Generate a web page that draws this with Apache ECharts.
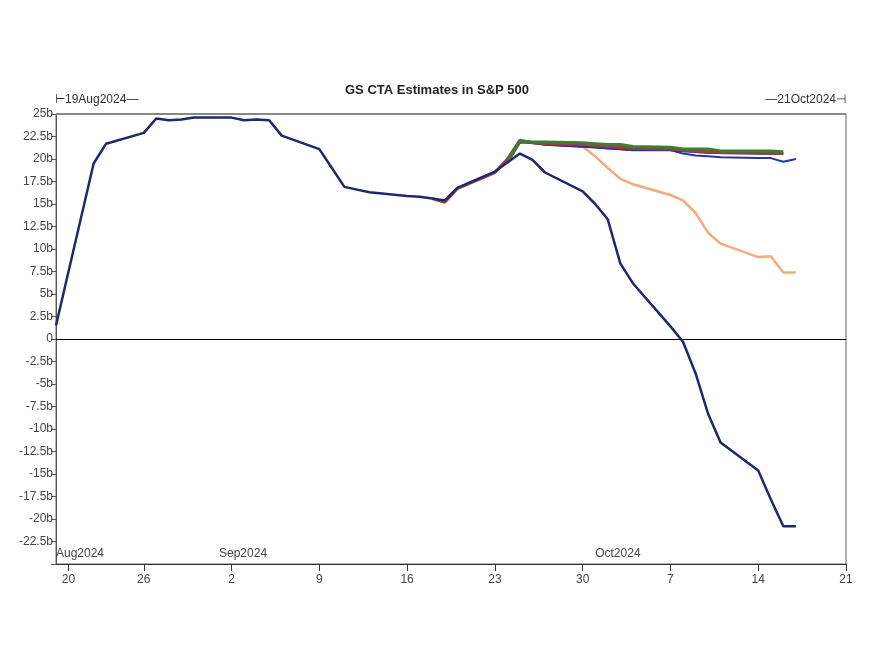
<!DOCTYPE html>
<html>
<head>
<meta charset="utf-8">
<script src="https://cdn.jsdelivr.net/npm/echarts@6/dist/echarts.min.js"></script>
<style>
html,body{margin:0;padding:0;background:#fff;}
#main{width:870px;height:652px;}
</style>
</head>
<body>
<div id="main"></div>
<script>
// ---- Data (values in billions USD) ----
const navyDates = ['2024-08-19','2024-08-20','2024-08-21','2024-08-22','2024-08-23','2024-08-26','2024-08-27','2024-08-28','2024-08-29','2024-08-30',
  '2024-09-02','2024-09-03','2024-09-04','2024-09-05','2024-09-06','2024-09-09','2024-09-10','2024-09-11','2024-09-12','2024-09-13',
  '2024-09-16','2024-09-17','2024-09-18','2024-09-19','2024-09-20','2024-09-23','2024-09-24','2024-09-25','2024-09-26','2024-09-27','2024-09-30',
  '2024-10-01','2024-10-02','2024-10-03','2024-10-04','2024-10-07','2024-10-08','2024-10-09','2024-10-10','2024-10-11','2024-10-14','2024-10-15','2024-10-16','2024-10-17'];
const navyValues = [1.5,7.5,13.5,19.5,21.7,22.9,24.5,24.3,24.4,24.6,
  24.6,24.3,24.4,24.3,22.6,21.1,19.0,16.9,16.6,16.3,
  15.9,15.8,15.6,15.4,16.8,18.6,19.6,20.6,19.9,18.5,16.4,
  15.0,13.3,8.4,6.2,1.4,-0.3,-3.8,-8.3,-11.5,-14.6,-17.8,-20.8,-20.8];

const scenarioDates = ['2024-09-24','2024-09-25','2024-09-26','2024-09-27','2024-09-30',
  '2024-10-01','2024-10-02','2024-10-03','2024-10-04','2024-10-07','2024-10-08','2024-10-09','2024-10-10','2024-10-11','2024-10-14','2024-10-15','2024-10-16','2024-10-17'];
const greenValues  = [19.6,22.0,21.9,21.9,21.8,21.7,21.6,21.6,21.4,21.3,21.1,21.1,21.1,20.9,20.9,20.9,20.8];
const pinkValues   = [19.6,21.9,21.8,21.7,21.6,21.6,21.5,21.4,21.2,21.0,20.9,20.8,20.8,20.7,20.7,20.7,20.7];
const purpleValues = [19.6,21.9,21.8,21.6,21.4,21.3,21.2,21.1,21.0,21.0,20.9,20.8,20.7,20.7,20.6,20.6,20.6];
const blueValues   = [19.6,21.9,21.8,21.6,21.4,21.3,21.2,21.1,21.0,21.0,20.6,20.4,20.3,20.2,20.1,20.1,19.7,20.0];
const orangeValues = [19.6,22.0,21.8,21.6,21.4,20.3,19.0,17.8,17.2,16.0,15.4,14.0,11.8,10.6,9.1,9.2,7.4,7.4];

const redDates = ['2024-09-18','2024-09-19','2024-09-20','2024-09-23','2024-09-24','2024-09-25','2024-09-26','2024-09-27','2024-09-30',
  '2024-10-01','2024-10-02','2024-10-03','2024-10-04','2024-10-07','2024-10-08','2024-10-09','2024-10-10','2024-10-11','2024-10-14','2024-10-15','2024-10-16'];
const redValues = [15.6,15.2,16.7,18.5,20.0,22.1,21.8,21.7,21.6,21.5,21.4,21.3,21.2,21.1,21.0,20.9,20.8,20.7,20.7,20.6,20.6];

const yTicks = [25,22.5,20,17.5,15,12.5,10,7.5,5,2.5,0,-2.5,-5,-7.5,-10,-12.5,-15,-17.5,-20,-22.5];
const xTickDates = ['2024-08-20','2024-08-26','2024-09-02','2024-09-09','2024-09-16','2024-09-23','2024-09-30','2024-10-07','2024-10-14','2024-10-21'];
const monthLabelDates = ['2024-08-19','2024-09-01','2024-10-01'];
const axisStart = '2024-08-19';
const axisEnd = '2024-10-21';
const titleText = 'GS CTA Estimates in S&P 500';
const startLabel = '\u22A219Aug2024\u2014';
const endLabel = '\u201421Oct2024\u22A3';

// ---- helpers: x positions are day offsets from axisStart ----
const DAY = 86400000;
function utc(s){ const p = s.split('-').map(Number); return Date.UTC(p[0], p[1]-1, p[2]); }
function dayIdx(s){ return Math.round((utc(s) - utc(axisStart)) / DAY); }
function dateOf(idx){ return new Date(utc(axisStart) + idx * DAY); }
function pairs(dates, vals){ return vals.map((v,i)=>[dayIdx(dates[i]), v]); }
const MONTHS = ['Jan','Feb','Mar','Apr','May','Jun','Jul','Aug','Sep','Oct','Nov','Dec'];

const chart = echarts.init(document.getElementById('main'), null, {renderer:'canvas'});
const FONT = 'Liberation Sans, Arial, sans-serif';

function lineSeries(name, dates, vals, color, width, z){
  return {
    name, type:'line', xAxisIndex:0, yAxisIndex:0,
    data: pairs(dates, vals), showSymbol:false, symbol:'none',
    lineStyle:{color, width}, itemStyle:{color}, z, animation:false
  };
}

const series = [
  lineSeries('orange', scenarioDates, orangeValues, '#f2ab7c', 2.5, 2),
  lineSeries('pink', scenarioDates, pinkValues, '#e591a6', 2.5, 3),
  lineSeries('purple', scenarioDates, purpleValues, '#5b2a86', 2.5, 4),
  lineSeries('blue', scenarioDates, blueValues, '#2733a6', 2, 5),
  lineSeries('red', redDates, redValues, '#93423a', 3, 6),
  lineSeries('green', scenarioDates, greenValues, '#3f7d30', 3, 7),
  Object.assign(lineSeries('navy', navyDates, navyValues, '#1f276e', 2.5, 8), {
    markLine:{
      silent:true, symbol:['none','none'], label:{show:false},
      lineStyle:{color:'#000', width:1, type:'solid'},
      data:[{yAxis:0}], animation:false
    }
  })
];

const xMin = dayIdx(axisStart), xMax = dayIdx(axisEnd);

const option = {
  backgroundColor:'#fff',
  animation:false,
  textStyle:{fontFamily:FONT},
  title:{
    text:titleText, left:432, top:79, textAlign:'center',
    textStyle:{fontFamily:FONT, fontSize:13, fontWeight:'bold', color:'#222'}
  },
  grid:{left:56, right:24, top:114, bottom:88, show:true, borderColor:'#666', borderWidth:1, containLabel:false},
  xAxis:[
    {
      type:'value', min:xMin, max:xMax, position:'bottom',
      splitLine:{show:false},
      axisLine:{show:true, onZero:false, lineStyle:{color:'#333', width:1}},
      axisTick:{show:true, length:7, lineStyle:{color:'#333'}, customValues: xTickDates.map(dayIdx)},
      axisLabel:{show:true, customValues: xTickDates.map(dayIdx), color:'#444', fontSize:12, margin:10, fontFamily:FONT,
        formatter:(v)=> String(dateOf(v).getUTCDate())}
    },
    {
      type:'value', min:xMin, max:xMax, position:'bottom', gridIndex:0,
      splitLine:{show:false}, axisLine:{show:false, onZero:false}, axisTick:{show:false},
      axisLabel:{show:true, inside:true, customValues: monthLabelDates.map(dayIdx), color:'#444', fontSize:12, margin:4, align:'left', fontFamily:FONT,
        formatter:(v)=>{ const d=dateOf(v); return MONTHS[d.getUTCMonth()] + d.getUTCFullYear(); }}
    }
  ],
  yAxis:{
    type:'value', min:-25, max:25, interval:2.5,
    splitLine:{show:false},
    axisLine:{show:true, onZero:false, lineStyle:{color:'#555', width:1}},
    axisTick:{show:true, length:5, lineStyle:{color:'#555'}},
    axisLabel:{color:'#444', fontSize:12, margin:3, fontFamily:FONT,
      formatter:(v)=>{ if (!yTicks.includes(v)) return ''; return v===0 ? '0' : (v + 'b'); }}
  },
  graphic:[
    {type:'text', left:55, top:94, style:{text:startLabel, fill:'#333', font:'12px ' + FONT}},
    {type:'text', right:24, top:94, style:{text:endLabel, fill:'#333', font:'12px ' + FONT}},
    {type:'line', shape:{x1:56, y1:114, x2:846, y2:114}, style:{stroke:'#888', lineWidth:2}, z:100}
  ],
  series
};
chart.setOption(option);
</script>
</body>
</html>
